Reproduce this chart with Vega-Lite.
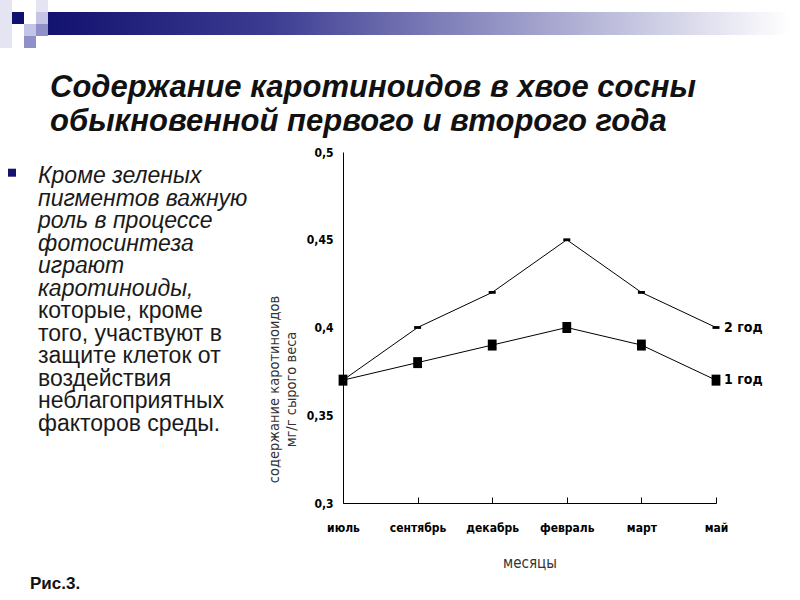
{
  "$schema": "https://vega.github.io/schema/vega-lite/v6.json",
  "padding": 0,
  "background": "white",
  "spacing": 24,
  "config": {"view": {"stroke": null}},
  "vconcat": [
    {
      "width": 790,
      "height": 48,
      "layer": [
        {
          "data": {"values": [
            {"c": 0, "r": 0, "shade": "a"}, {"c": 0, "r": 1, "shade": "a"}, {"c": 0, "r": 2, "shade": "a"}, {"c": 0, "r": 3, "shade": "a"},
            {"c": 1, "r": 1, "shade": "d"},
            {"c": 2, "r": 2, "shade": "b"}, {"c": 2, "r": 3, "shade": "c"},
            {"c": 3, "r": 0, "shade": "a"}, {"c": 3, "r": 1, "shade": "b"}, {"c": 3, "r": 2, "shade": "c"}
          ]},
          "transform": [{"calculate": "datum.c + 1", "as": "c2"}, {"calculate": "datum.r + 1", "as": "r2"}],
          "mark": {"type": "rect"},
          "encoding": {
            "x": {"field": "c", "type": "quantitative", "scale": {"domain": [0, 65.83], "nice": false}, "axis": null},
            "x2": {"field": "c2"},
            "y": {"field": "r", "type": "quantitative", "scale": {"domain": [0, 4], "nice": false, "reverse": true}, "axis": null},
            "y2": {"field": "r2"},
            "color": {"field": "shade", "type": "nominal", "scale": {"domain": ["a", "b", "c", "d"], "range": ["#e4e4f2", "#c4c4e6", "#9090c8", "#10106e"]}, "legend": null}
          }
        },
        {
          "data": {"values": [{"start": 4, "end": 65.83, "top": 1, "bottom": 2.92}]},
          "mark": {"type": "rect", "fill": {"gradient": "linear", "x1": 0, "x2": 1, "y1": 0, "y2": 0, "stops": [
            {"offset": 0, "color": "#12126f"},
            {"offset": 0.3, "color": "#3c3c92"},
            {"offset": 0.55, "color": "#8484bc"},
            {"offset": 0.8, "color": "#c8c8e2"},
            {"offset": 1, "color": "#ffffff"}
          ]}},
          "encoding": {
            "x": {"field": "start", "type": "quantitative"},
            "x2": {"field": "end"},
            "y": {"field": "top", "type": "quantitative"},
            "y2": {"field": "bottom"}
          }
        }
      ]
    },
    {
      "title": {
        "text": ["Содержание каротиноидов в хвое сосны", "обыкновенной первого и второго года"],
        "anchor": "start",
        "dx": 50,
        "font": "Liberation Sans",
        "fontSize": 31,
        "fontStyle": "italic",
        "fontWeight": "bold",
        "color": "#111111",
        "lineHeight": 34,
        "offset": 8
      },
      "spacing": 6,
      "hconcat": [
        {
          "width": 260,
          "height": 450,
          "layer": [
            {
              "data": {"values": [
                {"line": 1, "text": "Кроме зеленых"},
                {"line": 2, "text": "пигментов важную"},
                {"line": 3, "text": "роль в процессе"},
                {"line": 4, "text": "фотосинтеза"},
                {"line": 5, "text": "играют"},
                {"line": 6, "text": "каротиноиды,"},
                {"line": 7, "text": "которые, кроме"},
                {"line": 8, "text": "того, участвуют в"},
                {"line": 9, "text": "защите  клеток от"},
                {"line": 10, "text": "воздействия"},
                {"line": 11, "text": "неблагоприятных"},
                {"line": 12, "text": "факторов среды."}
              ]},
              "layer": [
                {
                  "transform": [{"filter": "datum.line <= 6"}],
                  "mark": {"type": "text", "align": "left", "baseline": "middle", "font": "Liberation Sans", "fontSize": 23, "fontStyle": "italic", "color": "#1a1a1a"},
                  "encoding": {
                    "x": {"datum": 38, "type": "quantitative", "scale": {"domain": [0, 260], "nice": false}, "axis": null},
                    "y": {"field": "line", "type": "quantitative", "scale": {"domain": [-0.07, 19.93], "nice": false, "reverse": true}, "axis": null},
                    "text": {"field": "text"}
                  }
                },
                {
                  "transform": [{"filter": "datum.line > 6"}],
                  "mark": {"type": "text", "align": "left", "baseline": "middle", "font": "Liberation Sans", "fontSize": 23, "color": "#1a1a1a"},
                  "encoding": {
                    "x": {"datum": 38, "type": "quantitative"},
                    "y": {"field": "line", "type": "quantitative"},
                    "text": {"field": "text"}
                  }
                }
              ]
            },
            {
              "data": {"values": [{"bullet": "■"}]},
              "mark": {"type": "square", "size": 64, "color": "#14146e", "opacity": 1},
              "encoding": {
                "x": {"datum": 12, "type": "quantitative"},
                "y": {"datum": 0.85, "type": "quantitative"}
              }
            },
            {
              "data": {"values": [{"caption": "Рис.3."}]},
              "mark": {"type": "text", "align": "left", "baseline": "middle", "font": "Liberation Sans", "fontSize": 17, "fontWeight": "bold", "color": "#111111"},
              "encoding": {
                "x": {"datum": 30, "type": "quantitative"},
                "y": {"datum": 19.15, "type": "quantitative"},
                "text": {"field": "caption"}
              }
            }
          ]
        },
        {
          "width": 373,
          "height": 351,
          "data": {"values": [
            {"month": "июль", "series": "1 год", "value": 0.37},
            {"month": "сентябрь", "series": "1 год", "value": 0.38},
            {"month": "декабрь", "series": "1 год", "value": 0.39},
            {"month": "февраль", "series": "1 год", "value": 0.40},
            {"month": "март", "series": "1 год", "value": 0.39},
            {"month": "май", "series": "1 год", "value": 0.37},
            {"month": "июль", "series": "2 год", "value": 0.37},
            {"month": "сентябрь", "series": "2 год", "value": 0.40},
            {"month": "декабрь", "series": "2 год", "value": 0.42},
            {"month": "февраль", "series": "2 год", "value": 0.45},
            {"month": "март", "series": "2 год", "value": 0.42},
            {"month": "май", "series": "2 год", "value": 0.40}
          ]},
          "encoding": {
            "x": {
              "field": "month", "type": "ordinal",
              "sort": ["июль", "сентябрь", "декабрь", "февраль", "март", "май"],
              "scale": {"type": "point", "padding": 0},
              "axis": {
                "title": "месяцы",
                "labelAngle": 0,
                "labelFont": "DejaVu Sans Condensed, Liberation Sans",
                "labelFontWeight": "bold",
                "labelFontSize": 12,
                "labelColor": "#000000",
                "labelPadding": 25,
                "ticks": true,
                "tickSize": -6,
                "tickColor": "#000000",
                "domainColor": "#000000",
                "grid": false,
                "titleFont": "DejaVu Sans Condensed, Liberation Sans",
                "titleFontWeight": "normal",
                "titleFontSize": 15,
                "titleColor": "#333333",
                "titlePadding": 22
              }
            },
            "y": {
              "field": "value", "type": "quantitative",
              "scale": {"domain": [0.3, 0.5], "zero": false, "nice": false},
              "axis": {
                "values": [0.3, 0.35, 0.4, 0.45, 0.5],
                "labelExpr": "replace(format(datum.value, '.2~f'), '.', ',')",
                "title": ["содержание каротиноидов", "мг/г сырого веса"],
                "labelFont": "DejaVu Sans Condensed, Liberation Sans",
                "labelFontWeight": "bold",
                "labelFontSize": 12,
                "labelColor": "#000000",
                "labelPadding": 10,
                "ticks": false,
                "domainColor": "#000000",
                "grid": false,
                "titleFont": "DejaVu Sans Condensed, Liberation Sans",
                "titleFontWeight": "normal",
                "titleFontSize": 14.5,
                "titleColor": "#333333",
                "titlePadding": 8,
                "titleY": 237,
                "titleLineHeight": 17
              }
            }
          },
          "layer": [
            {
              "mark": {"type": "line", "color": "#000000", "strokeWidth": 1},
              "encoding": {"detail": {"field": "series"}}
            },
            {
              "mark": {"type": "point", "filled": true, "opacity": 1, "color": "#000000"},
              "encoding": {
                "shape": {"field": "series", "type": "nominal", "scale": {"domain": ["1 год", "2 год"], "range": ["M-0.8,-1L0.8,-1L0.8,1L-0.8,1Z", "M-1,-0.4L1,-0.4L1,0.4L-1,0.4Z"]}, "legend": null},
                "size": {"field": "series", "type": "nominal", "scale": {"domain": ["1 год", "2 год"], "range": [121, 49]}, "legend": null}
              }
            },
            {
              "transform": [{"filter": "datum.month === 'май'"}],
              "mark": {"type": "text", "align": "left", "baseline": "middle", "dx": 8, "font": "DejaVu Sans Condensed, Liberation Sans", "fontWeight": "bold", "fontSize": 14, "color": "#000000"},
              "encoding": {"text": {"field": "series"}}
            }
          ]
        }
      ]
    }
  ]
}
